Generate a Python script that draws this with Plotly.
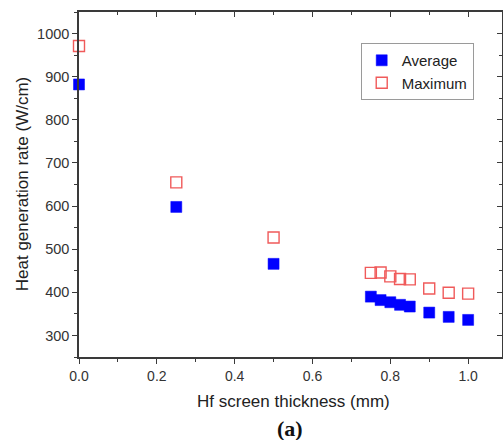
import plotly.graph_objects as go

thickness = [0.0, 0.25, 0.5, 0.75, 0.775, 0.8, 0.825, 0.85, 0.9, 0.95, 1.0]
average = [882, 598, 466, 390, 382, 377, 371, 367, 353, 343, 336]
maximum = [971, 655, 527, 445, 446, 437, 431, 430, 409, 399, 397]

x_ticks = [0.0, 0.2, 0.4, 0.6, 0.8, 1.0]
x_labels = ["0.0", "0.2", "0.4", "0.6", "0.8", "1.0"]
y_ticks = [300, 400, 500, 600, 700, 800, 900, 1000]

FONT = "Liberation Sans"
AX = "#3a3a3a"
xr = [0, 1.087]
yr = [250, 1050]

fig = go.Figure()
fig.add_trace(go.Scatter(
    x=thickness, y=average, mode="markers", name="Average",
    marker=dict(symbol="square", size=11, color="#0000FF",
                line=dict(color="#0000FF", width=0.5)),
    cliponaxis=False))
fig.add_trace(go.Scatter(
    x=thickness, y=maximum, mode="markers", name="Maximum",
    marker=dict(symbol="square-open", size=11, color="#F05A5A",
                line=dict(color="#F05A5A", width=1.4)),
    cliponaxis=False))
# helper trace to instantiate mirrored axes (no points)
fig.add_trace(go.Scatter(x=[], y=[], xaxis="x2", yaxis="y2",
                         showlegend=False, hoverinfo="skip"))

common = dict(showgrid=False, zeroline=False, showline=True, linecolor=AX,
              linewidth=1.5, tickcolor=AX, tickwidth=1.2)

fig.update_layout(
    width=503, height=440,
    margin=dict(l=79, r=1, t=12, b=83),
    paper_bgcolor="white", plot_bgcolor="white",
    font=dict(family=FONT, size=14, color="#333333"),
    showlegend=True,
    legend=dict(x=0.666, y=0.91, xanchor="left", yanchor="top",
                bordercolor="#9a9a9a", borderwidth=1, bgcolor="white",
                font=dict(family=FONT, size=15, color="#222222")),
    xaxis=dict(range=xr, tickvals=x_ticks, ticktext=x_labels,
               ticks="outside", ticklen=5,
               minor=dict(dtick=0.1, ticks="outside", ticklen=3,
                          tickcolor=AX, tickwidth=1.2),
               tickfont=dict(size=14, color="#333333"), **common),
    yaxis=dict(range=yr, tickvals=y_ticks,
               ticks="outside", ticklen=5,
               minor=dict(dtick=50, ticks="outside", ticklen=3,
                          tickcolor=AX, tickwidth=1.2),
               tickfont=dict(size=14.5, color="#333333"), **common),
    xaxis2=dict(range=xr, overlaying="x", side="top", anchor="y2",
                tickvals=x_ticks, showticklabels=False,
                ticks="inside", ticklen=5,
                minor=dict(dtick=0.1, ticks="inside", ticklen=3,
                           tickcolor=AX, tickwidth=1.2), **common),
    yaxis2=dict(range=yr, overlaying="y", side="right", anchor="x2",
                tickvals=y_ticks, showticklabels=False,
                ticks="inside", ticklen=5,
                minor=dict(dtick=50, ticks="inside", ticklen=3,
                           tickcolor=AX, tickwidth=1.2), **common),
    annotations=[
        dict(text="Heat generation rate (W/cm)", xref="paper", yref="paper",
             x=-0.133, y=0.5, textangle=-90, showarrow=False,
             xanchor="center", yanchor="middle",
             font=dict(family=FONT, size=17, color="#222222")),
        dict(text="Hf screen thickness (mm)", xref="paper", yref="paper",
             x=0.507, y=-0.13, showarrow=False,
             xanchor="center", yanchor="middle",
             font=dict(family=FONT, size=17, color="#222222")),
        dict(text="<b>(a)</b>", xref="paper", yref="paper",
             x=0.498, y=-0.206, showarrow=False,
             xanchor="center", yanchor="middle",
             font=dict(family="Liberation Serif", size=22, color="#111111")),
    ],
)

fig.write_html("out.html")
